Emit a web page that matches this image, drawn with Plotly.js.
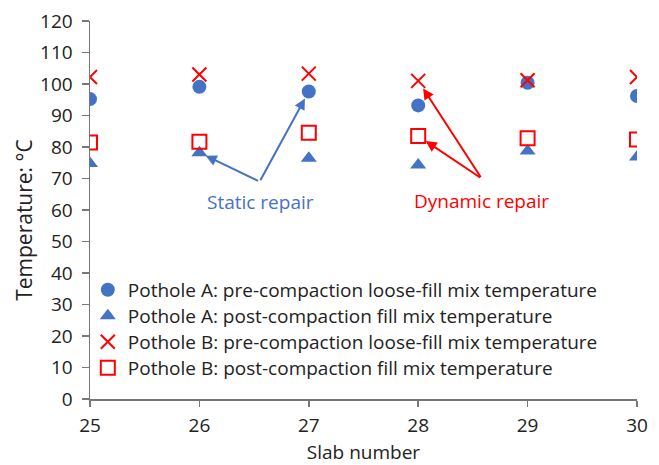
<!DOCTYPE html>
<html>
<head>
<meta charset="utf-8">
<script src="https://cdn.plot.ly/plotly-3.0.1.min.js"></script>
<style>html,body{margin:0;padding:0;background:#fff;}#chart{width:659px;height:465px;}</style>
</head>
<body>
<div id="chart"></div>
<script>
const slabs = [25, 26, 27, 28, 29, 30];
const potholeAPre = [95.2, 99.1, 97.6, 93.2, 100.4, 96.2];
const potholeAPost = [74.8, 78.2, 76.4, 74.3, 78.7, 76.8];
const potholeBPre = [102.2, 103.0, 103.3, 101.0, 101.2, 102.2];
const potholeBPost = [81.4, 81.7, 84.5, 83.5, 82.8, 82.4];
const seriesNames = [
  'Pothole A: pre-compaction loose-fill mix temperature',
  'Pothole A: post-compaction fill mix temperature',
  'Pothole B: pre-compaction loose-fill mix temperature',
  'Pothole B: post-compaction fill mix temperature'
];
const xTicks = [25, 26, 27, 28, 29, 30];
const yTicks = [0, 10, 20, 30, 40, 50, 60, 70, 80, 90, 100, 110, 120];

const blue = '#4472C4', red = '#FF0000';
const FONT = 'Open Sans, sans-serif';
const FS = 19;
const LFS = 19;

const traces = [
  {x: slabs, y: potholeAPre, name: seriesNames[0], type: 'scatter', mode: 'markers', legend: 'legend',
   marker: {symbol: 'circle', size: 14, color: blue}},
  {x: slabs, y: potholeAPost, name: seriesNames[1], type: 'scatter', mode: 'markers', legend: 'legend2',
   marker: {symbol: 'triangle-up', size: 14, color: blue}},
  {x: slabs, y: potholeBPre, name: seriesNames[2], type: 'scatter', mode: 'markers', legend: 'legend3',
   marker: {symbol: 'x-thin-open', size: 14, color: red, line: {color: red, width: 2}}},
  {x: slabs, y: potholeBPost, name: seriesNames[3], type: 'scatter', mode: 'markers', legend: 'legend4',
   marker: {symbol: 'square-open', size: 14, color: red, line: {color: red, width: 2}}}
];

const staticTail = [26.55, 69.0];
const dynamicTail = [28.58, 70.0];

function arrow(x, y, tail, color, standoff) {
  return {x: x, y: y, xref: 'x', yref: 'y', axref: 'x', ayref: 'y',
    ax: tail[0], ay: tail[1], text: '', showarrow: true,
    arrowhead: 2, arrowsize: 1.1, arrowwidth: 2, arrowcolor: color, standoff: standoff};
}

function legendAt(yPaper) {
  return {x: -0.004, y: yPaper, xanchor: 'left', yanchor: 'middle', bgcolor: 'rgba(0,0,0,0)',
    font: {family: FONT, size: LFS, color: '#222'}, itemsizing: 'trace'};
}

const layout = {
  width: 659, height: 465,
  margin: {l: 89.5, r: 22.3, t: 20.7, b: 66},
  paper_bgcolor: '#fff', plot_bgcolor: '#fff',
  font: {family: FONT, size: FS, color: '#222'},
  showlegend: true,
  legend: legendAt(0.2885),
  legend2: legendAt(0.2198),
  legend3: legendAt(0.1511),
  legend4: legendAt(0.0824),
  xaxis: {range: [25, 30], tickvals: xTicks, ticktext: xTicks.map(String),
    showgrid: false, zeroline: false, showline: true, linecolor: '#777', linewidth: 1.5,
    ticks: 'outside', ticklen: 6, tickcolor: '#777', tickwidth: 1.5, ticklabelstandoff: 3,
    tickfont: {family: FONT, size: FS, color: '#222'},
    title: {text: 'Slab number', font: {family: FONT, size: FS, color: '#222'}, standoff: 19}},
  yaxis: {range: [0, 120], tickvals: yTicks, ticktext: yTicks.map(String),
    showgrid: false, zeroline: false, showline: true, linecolor: '#777', linewidth: 1.5,
    ticks: 'outside', ticklen: 7, tickcolor: '#777', tickwidth: 1.5, ticklabelstandoff: 5,
    tickfont: {family: FONT, size: FS, color: '#222'}},
  annotations: [
    arrow(slabs[1], potholeAPost[1], staticTail, blue, 7),
    arrow(slabs[2], potholeAPre[2], staticTail, blue, 8),
    arrow(slabs[3], potholeBPre[3], dynamicTail, red, 9),
    arrow(slabs[3], potholeBPost[3], dynamicTail, red, 9),
    {x: 26.56, y: 62.5, xref: 'x', yref: 'y', text: 'Static repair', showarrow: false,
     font: {family: FONT, size: FS, color: blue}},
    {x: 28.58, y: 63.0, xref: 'x', yref: 'y', text: 'Dynamic repair', showarrow: false,
     font: {family: FONT, size: FS, color: red}},
    {x: -0.12, y: 0.475, xref: 'paper', yref: 'paper', text: 'Temperature: °C', showarrow: false,
     textangle: -90, xanchor: 'center', yanchor: 'middle',
     font: {family: FONT, size: 21, color: '#222'}}
  ]
};

Plotly.newPlot('chart', traces, layout, {displayModeBar: false, staticPlot: true});
</script>
</body>
</html>
